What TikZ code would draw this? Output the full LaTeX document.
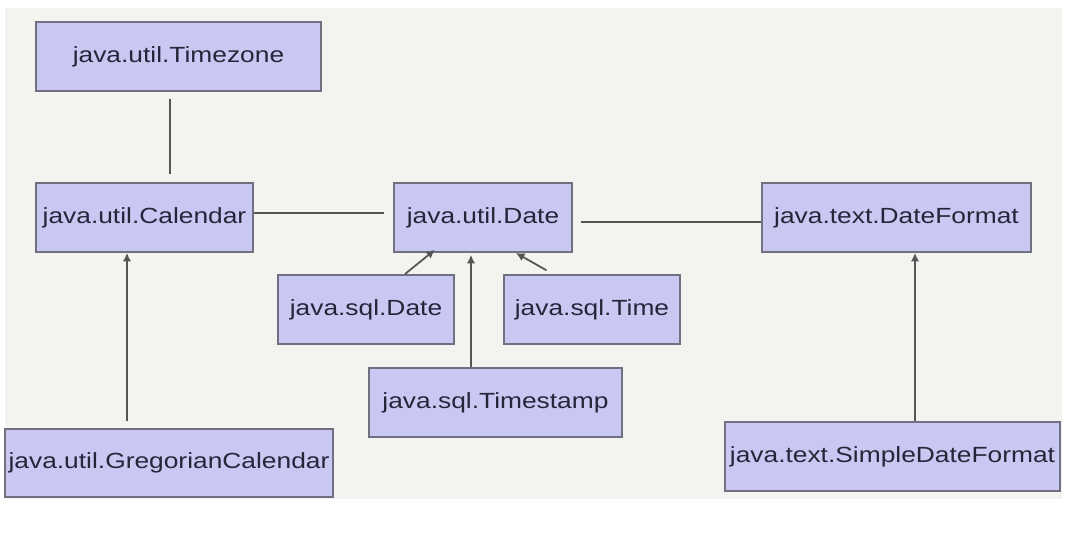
\documentclass[tikz,border=0pt]{standalone}
\usepackage{fontspec}
\setmainfont{Liberation Sans}[FakeStretch=1.2]
\usetikzlibrary{arrows.meta}

\definecolor{boxfill}{RGB}{200,200,242}
\definecolor{boxline}{RGB}{112,112,128}
\definecolor{conline}{RGB}{85,85,85}
\definecolor{txtcol}{RGB}{38,38,58}
\definecolor{bgcol}{RGB}{243,243,240}

\begin{document}
\begin{tikzpicture}[x=0.02cm,y=-0.02cm,
  cls/.style={draw=boxline,line width=1.1pt,fill=boxfill,text=txtcol,
    inner sep=0pt,minimum height=1.38cm,font=\fontsize{12.5}{15}\selectfont},
  con/.style={draw=conline,line width=1pt},
  arr/.style={con,-{Latex[length=1.7mm,width=1.7mm]}}]

\useasboundingbox (0,0) rectangle (1073,534);
\fill[bgcol] (5,8) rectangle (1062,499);

\node [cls,minimum width=5.70cm] (tz) at (178.5,56.5) {java.util.Timezone};
\node [cls,minimum width=4.34cm] (cal) at (144.5,217.5) {java.util.Calendar};
\node [cls,minimum width=3.56cm] (udate) at (483,217.5) {java.util.Date};
\node [cls,minimum width=5.38cm] (dfmt) at (896.5,217.5) {java.text.DateFormat};

\node [cls,minimum width=3.52cm] (sdate) at (366,309.5) {java.sql.Date};
\node [cls,minimum width=3.52cm] (stime) at (592,309.5) {java.sql.Time};
\node [cls,minimum width=5.06cm] (tstamp) at (495.5,402.5) {java.sql.Timestamp};

\node [cls,minimum width=6.56cm,minimum height=1.36cm] (greg) at (169,463) {java.util.GregorianCalendar};
\node [cls,minimum width=6.70cm] (sdf) at (892.5,456.5) {java.text.SimpleDateFormat};

\draw[con,shorten <=0.14cm,shorten >=0.16cm] (tz.south -| 170,0) -- (cal.north -| 170,0);
\draw[con,shorten >=0.18cm] (cal.east |- 0,213) -- (udate.west |- 0,213);
\draw[con,shorten <=0.16cm] (udate.east |- 0,222) -- (dfmt.west |- 0,222);

\draw[arr,shorten <=0.14cm] (greg.north -| 127,0) -- (cal.south -| 127,0);
\draw[arr] (sdf.north -| 915,0) -- (dfmt.south -| 915,0);
\draw[arr,shorten >=0.04cm] (tstamp.north -| 471,0) -- (udate.south -| 471,0);
\draw[arr,shorten >=-0.1cm] (sdate.north -| 405,0) -- (udate.south -| 431,0);
\draw[arr,shorten <=0.15cm] (stime.north -| 553,0) -- (udate.south -| 516,0);

\end{tikzpicture}
\end{document}
